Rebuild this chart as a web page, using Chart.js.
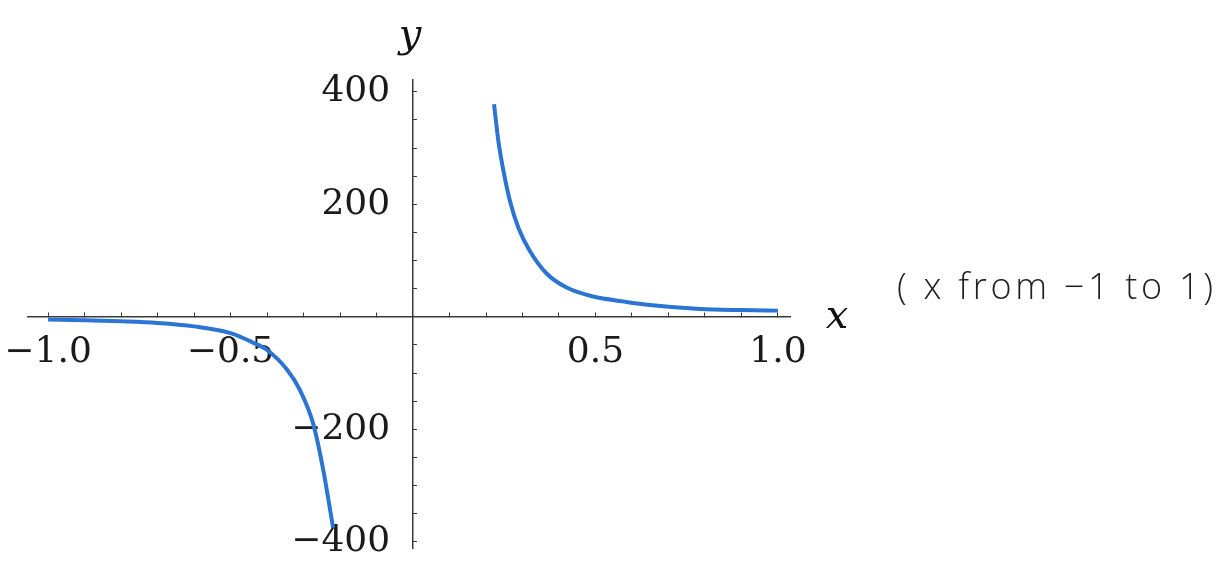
<!DOCTYPE html>
<html>
<head>
<meta charset="utf-8">
<script src="https://cdn.jsdelivr.net/npm/chart.js@4/dist/chart.umd.min.js"></script>
<style>
  body { margin: 0; background: #fff; }
  #wrap { width: 1220px; height: 576px; }
</style>
</head>
<body>
<div id="wrap"><canvas id="plot" width="1220" height="576"></canvas></div>
<script>
// values (y = f(x), two branches)
var leftX  = [-1.0, -0.9, -0.8, -0.7, -0.6, -0.5, -0.438, -0.4, -0.345, -0.31, -0.274, -0.246, -0.219];
var leftY  = [-5, -6, -8, -11, -17, -29, -46, -59, -94, -130, -189, -272, -375];
var rightX = [0.222, 0.234, 0.247, 0.266, 0.289, 0.321, 0.366, 0.421, 0.494, 0.58, 0.649, 0.786, 0.9, 1.0];
var rightY = [378, 312, 262, 205, 158, 116, 77, 52, 36, 27, 21, 14, 12, 11];

var xTicks = [-1, -0.9, -0.8, -0.7, -0.6, -0.5, -0.4, -0.3, -0.2, -0.1, 0.1, 0.2, 0.3, 0.4, 0.5, 0.6, 0.7, 0.8, 0.9, 1];
var xLabels = [-1, -0.5, 0.5, 1];
var yTicks = [-400, -350, -300, -250, -200, -150, -100, -50, 50, 100, 150, 200, 250, 300, 350, 400];
var yLabels = [-400, -200, 200, 400];

var blue = '#2b74d4';
var axisColor = '#3a3a3a';

function pts(xs, ys){
    var out = [];
    for(var i=0; i<xs.length; i++){
        out.push({x: xs[i], y: ys[i]});
    }
    return out;
}

function isLabel(list, v){
    for(var i=0; i<list.length; i++){
        if(Math.abs(list[i]-v) < 1e-6) return true;
    }
    return false;
}

// axes sit at the origin, so their labels must not shrink the plot area
function noPadding(axis){
    axis.paddingLeft = 0;
    axis.paddingRight = 0;
    axis.paddingTop = 0;
    axis.paddingBottom = 0;
}

// axis names and the note on the right
var textPlugin = {
    id: 'axisText',
    afterDraw: function(chart){
        var ctx = chart.ctx;
        var xs = chart.scales.x, ys = chart.scales.y;
        var x0 = xs.getPixelForValue(0);
        var y0 = ys.getPixelForValue(0);
        ctx.save();
        ctx.fillStyle = '#111';
        ctx.textAlign = 'center';
        ctx.textBaseline = 'middle';
        ctx.font = 'italic 40px "DejaVu Serif"';
        ctx.fillText('y', x0 - 3, chart.chartArea.top - 43);
        ctx.fillText('x', chart.chartArea.right + 47, y0 + 1);
        ctx.textAlign = 'left';
        ctx.font = '300 36px "Open Sans"';
        ctx.fillStyle = '#222';
        ctx.letterSpacing = '3.7px';
        ctx.fillText('( x from \u22121 to 1)', chart.chartArea.right + 107, y0 - 28);
        ctx.restore();
    }
};

var ctx = document.getElementById('plot').getContext('2d');
var chart = new Chart(ctx, {
    type: 'scatter',
    data: {
        datasets: [{
            data: pts(leftX, leftY),
            showLine: true,
            borderColor: blue,
            borderWidth: 4,
            pointRadius: 0,
            cubicInterpolationMode: 'monotone'
        }, {
            data: pts(rightX, rightY),
            showLine: true,
            borderColor: blue,
            borderWidth: 4,
            pointRadius: 0,
            cubicInterpolationMode: 'monotone'
        }]
    },
    options: {
        responsive: false,
        animation: false,
        layout: {
            padding: {left: 28, right: 430, top: 80, bottom: 28}
        },
        plugins: {
            legend: {display: false},
            tooltip: {enabled: false}
        },
        scales: {
            x: {
                type: 'linear',
                min: -1.055,
                max: 1.033,
                position: {y: 0},
                afterBuildTicks: function(axis){
                    axis.ticks = xTicks.map(function(v){ return {value: v}; });
                },
                afterFit: noPadding,
                border: {color: axisColor, width: 1.5},
                grid: {drawOnChartArea: false, drawTicks: true, tickLength: -5, color: axisColor, tickColor: axisColor},
                ticks: {
                    autoSkip: false,
                    maxRotation: 0,
                    padding: 19,
                    color: '#1a1a1a',
                    font: {family: 'DejaVu Serif', size: 36},
                    callback: function(v){
                        if(!isLabel(xLabels, v)) return '';
                        return (v < 0 ? '\u2212' : '') + Math.abs(v).toFixed(1);
                    }
                }
            },
            y: {
                type: 'linear',
                min: -411,
                max: 421,
                position: {x: 0},
                afterBuildTicks: function(axis){
                    axis.ticks = yTicks.map(function(v){ return {value: v}; });
                },
                afterFit: noPadding,
                border: {color: axisColor, width: 1.5},
                grid: {drawOnChartArea: false, drawTicks: true, tickLength: -5, color: axisColor, tickColor: axisColor},
                ticks: {
                    autoSkip: false,
                    color: '#1a1a1a',
                    font: {family: 'DejaVu Serif', size: 36},
                    callback: function(v){
                        if(!isLabel(yLabels, v)) return '';
                        // trailing spaces keep the label off the axis line
                        return (v < 0 ? '\u2212' : '') + Math.abs(v) + '  ';
                    }
                }
            }
        }
    },
    plugins: [textPlugin]
});
</script>
</body>
</html>
